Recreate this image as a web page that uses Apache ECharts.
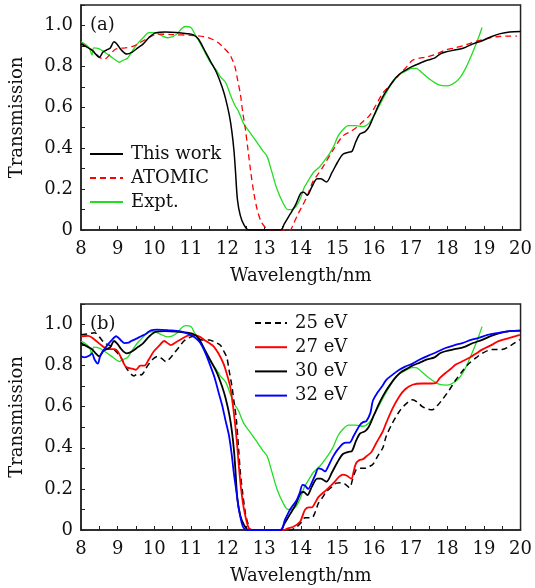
<!DOCTYPE html>
<html lang="en">
<head>
    <meta charset="UTF-8">
    <title>Transmission</title>
    <script src="https://cdn.jsdelivr.net/npm/echarts@6/dist/echarts.min.js"></script>
    <style>
        html, body { margin: 0; padding: 0; background: #fff; }
        #main { width: 535px; height: 588px; }
    </style>
</head>
<body>
    <div id="main"></div>

    <script>
        // x ticks / y ticks
        var xTicks = [8, 9, 10, 11, 12, 13, 14, 15, 16, 17, 18, 19, 20];
        var yTicks = [0, 0.2, 0.4, 0.6, 0.8, 1.0];

        // panel (a) / 30 eV in (b): [wavelength nm, transmission]
        var thisWork = [[8.0,0.91],[8.1,0.9],[8.2,0.89],[8.3,0.88],[8.4,0.86],[8.5,0.845],[8.6,0.87],[8.7,0.88],[8.8,0.89],[8.9,0.92],[9.0,0.905],[9.1,0.88],[9.25,0.86],[9.4,0.87],[9.55,0.89],[9.7,0.91],[9.85,0.94],[10.05,0.965],[10.3,0.968],[10.6,0.966],[10.9,0.96],[11.05,0.955],[11.2,0.935],[11.4,0.87],[11.55,0.82],[11.7,0.77],[11.85,0.7],[11.95,0.64],[12.05,0.56],[12.12,0.48],[12.18,0.38],[12.22,0.28],[12.27,0.15],[12.35,0.07],[12.45,0.025],[12.58,0.0],[13.45,0.0],[13.55,0.03],[13.7,0.075],[13.85,0.12],[14.0,0.18],[14.08,0.185],[14.18,0.17],[14.3,0.21],[14.45,0.25],[14.55,0.25],[14.7,0.235],[14.85,0.28],[15.0,0.33],[15.15,0.37],[15.3,0.38],[15.4,0.385],[15.5,0.43],[15.62,0.47],[15.75,0.48],[15.85,0.5],[16.0,0.56],[16.15,0.62],[16.3,0.67],[16.45,0.71],[16.6,0.745],[16.75,0.77],[16.9,0.785],[17.05,0.8],[17.25,0.815],[17.45,0.83],[17.65,0.84],[17.8,0.86],[17.95,0.87],[18.2,0.88],[18.45,0.89],[18.7,0.91],[18.95,0.925],[19.2,0.945],[19.45,0.96],[19.7,0.968],[20.0,0.97]];

        var atomic = [[8.0,0.915],[8.2,0.89],[8.37,0.87],[8.5,0.845],[8.64,0.835],[8.8,0.86],[8.95,0.885],[9.2,0.89],[9.45,0.9],[9.6,0.915],[9.75,0.93],[9.95,0.95],[10.1,0.958],[10.5,0.955],[11.0,0.952],[11.35,0.945],[11.55,0.935],[11.75,0.915],[11.9,0.89],[12.03,0.865],[12.1,0.845],[12.2,0.8],[12.28,0.73],[12.35,0.665],[12.42,0.57],[12.49,0.49],[12.56,0.39],[12.63,0.29],[12.72,0.18],[12.81,0.1],[12.92,0.04],[13.05,0.01],[13.15,0.0],[13.7,0.0],[13.8,0.03],[13.93,0.08],[14.05,0.12],[14.16,0.16],[14.34,0.24],[14.5,0.28],[14.61,0.31],[14.88,0.39],[15.15,0.46],[15.35,0.48],[15.51,0.5],[15.7,0.53],[15.88,0.56],[16.05,0.61],[16.24,0.67],[16.45,0.71],[16.69,0.76],[16.9,0.8],[17.05,0.83],[17.25,0.84],[17.41,0.845],[17.7,0.86],[17.95,0.88],[18.2,0.89],[18.5,0.905],[18.75,0.92],[18.95,0.93],[19.2,0.94],[19.4,0.946],[19.7,0.948],[19.9,0.948]];

        var expt = [[8.0,0.92],[8.1,0.91],[8.2,0.895],[8.25,0.88],[8.3,0.855],[8.35,0.89],[8.5,0.885],[8.64,0.87],[8.8,0.85],[8.95,0.83],[9.05,0.82],[9.15,0.83],[9.27,0.84],[9.4,0.875],[9.54,0.91],[9.7,0.94],[9.85,0.965],[10.0,0.965],[10.15,0.955],[10.36,0.94],[10.5,0.945],[10.63,0.96],[10.75,0.985],[10.85,0.995],[11.0,0.99],[11.1,0.96],[11.2,0.93],[11.35,0.88],[11.53,0.82],[11.7,0.78],[11.8,0.75],[11.95,0.72],[12.08,0.66],[12.2,0.61],[12.3,0.58],[12.44,0.52],[12.6,0.48],[12.8,0.43],[12.95,0.39],[13.08,0.36],[13.2,0.29],[13.35,0.2],[13.53,0.127],[13.65,0.1],[13.75,0.1],[13.89,0.12],[14.0,0.16],[14.1,0.21],[14.2,0.24],[14.34,0.28],[14.52,0.31],[14.65,0.34],[14.79,0.375],[14.9,0.41],[15.02,0.46],[15.15,0.49],[15.3,0.51],[15.5,0.51],[15.7,0.505],[15.85,0.52],[15.97,0.55],[16.15,0.61],[16.33,0.67],[16.5,0.72],[16.69,0.76],[16.9,0.78],[17.05,0.79],[17.15,0.79],[17.3,0.77],[17.5,0.74],[17.77,0.71],[18.0,0.705],[18.2,0.72],[18.35,0.745],[18.5,0.79],[18.65,0.85],[18.81,0.92],[18.95,0.99]];

        // panel (b)
        var ev25 = [[8.0,0.95],[8.2,0.955],[8.37,0.96],[8.5,0.94],[8.64,0.91],[8.82,0.895],[8.95,0.87],[9.09,0.84],[9.27,0.78],[9.45,0.75],[9.55,0.76],[9.64,0.755],[9.82,0.8],[9.95,0.83],[10.09,0.845],[10.2,0.835],[10.32,0.82],[10.45,0.84],[10.54,0.86],[10.7,0.895],[10.81,0.92],[11.0,0.94],[11.1,0.943],[11.3,0.925],[11.5,0.925],[11.65,0.915],[11.8,0.9],[11.9,0.87],[11.98,0.84],[12.05,0.77],[12.12,0.7],[12.18,0.62],[12.24,0.54],[12.3,0.4],[12.35,0.28],[12.42,0.17],[12.49,0.08],[12.56,0.03],[12.65,0.0],[13.7,0.0],[13.85,0.01],[13.98,0.03],[14.12,0.06],[14.3,0.06],[14.4,0.09],[14.48,0.13],[14.6,0.16],[14.7,0.187],[14.85,0.21],[14.97,0.228],[15.1,0.23],[15.2,0.225],[15.33,0.206],[15.42,0.25],[15.51,0.293],[15.62,0.3],[15.75,0.3],[15.88,0.31],[15.97,0.32],[16.1,0.36],[16.24,0.4],[16.33,0.455],[16.5,0.52],[16.69,0.577],[16.85,0.61],[17.05,0.634],[17.2,0.62],[17.32,0.6],[17.45,0.59],[17.59,0.585],[17.75,0.61],[17.86,0.634],[18.05,0.68],[18.23,0.73],[18.4,0.77],[18.59,0.81],[18.8,0.84],[18.95,0.86],[19.22,0.878],[19.49,0.878],[19.75,0.9],[19.98,0.927]];

        var ev27 = [[8.0,0.943],[8.2,0.945],[8.35,0.93],[8.55,0.9],[8.73,0.88],[8.91,0.88],[9.0,0.87],[9.09,0.84],[9.2,0.8],[9.27,0.79],[9.4,0.785],[9.5,0.78],[9.62,0.8],[9.73,0.8],[9.85,0.83],[9.99,0.87],[10.15,0.9],[10.27,0.92],[10.4,0.905],[10.45,0.9],[10.6,0.915],[10.72,0.927],[10.9,0.945],[11.08,0.95],[11.25,0.94],[11.35,0.927],[11.5,0.91],[11.62,0.894],[11.75,0.86],[11.89,0.81],[11.98,0.76],[12.07,0.7],[12.13,0.63],[12.18,0.56],[12.25,0.44],[12.31,0.31],[12.37,0.2],[12.44,0.11],[12.51,0.05],[12.58,0.01],[12.68,0.0],[13.53,0.0],[13.65,0.008],[13.8,0.016],[13.98,0.04],[14.05,0.07],[14.12,0.1],[14.22,0.11],[14.3,0.11],[14.4,0.135],[14.48,0.16],[14.6,0.18],[14.7,0.195],[14.93,0.236],[15.05,0.26],[15.15,0.27],[15.25,0.265],[15.38,0.25],[15.45,0.29],[15.51,0.325],[15.6,0.34],[15.7,0.345],[15.8,0.36],[15.93,0.38],[16.05,0.42],[16.24,0.48],[16.33,0.52],[16.5,0.59],[16.69,0.65],[16.85,0.685],[17.05,0.707],[17.32,0.713],[17.55,0.713],[17.68,0.715],[17.8,0.74],[17.95,0.764],[18.1,0.785],[18.23,0.805],[18.4,0.82],[18.59,0.837],[18.8,0.86],[18.95,0.878],[19.2,0.9],[19.4,0.919],[19.7,0.935],[19.98,0.95]];

        var ev32 = [[8.0,0.845],[8.1,0.84],[8.24,0.85],[8.3,0.86],[8.37,0.83],[8.46,0.81],[8.52,0.845],[8.6,0.87],[8.7,0.895],[8.82,0.92],[8.96,0.943],[9.08,0.925],[9.19,0.91],[9.3,0.912],[9.37,0.92],[9.5,0.93],[9.64,0.943],[9.78,0.955],[9.91,0.972],[10.09,0.975],[10.4,0.972],[10.72,0.967],[10.88,0.958],[10.99,0.95],[11.12,0.935],[11.26,0.91],[11.4,0.86],[11.53,0.8],[11.65,0.74],[11.76,0.667],[11.85,0.61],[11.94,0.537],[12.04,0.46],[12.12,0.36],[12.17,0.28],[12.24,0.19],[12.31,0.1],[12.38,0.04],[12.44,0.01],[12.55,0.0],[13.44,0.0],[13.57,0.05],[13.71,0.1],[13.89,0.146],[13.97,0.18],[14.05,0.22],[14.12,0.215],[14.2,0.2],[14.3,0.23],[14.4,0.27],[14.48,0.3],[14.58,0.295],[14.66,0.285],[14.75,0.31],[14.88,0.357],[15.0,0.39],[15.15,0.42],[15.25,0.425],[15.33,0.425],[15.45,0.46],[15.61,0.51],[15.7,0.525],[15.79,0.53],[15.9,0.57],[15.97,0.63],[16.1,0.67],[16.24,0.705],[16.33,0.73],[16.5,0.755],[16.69,0.78],[16.85,0.795],[17.05,0.81],[17.25,0.83],[17.5,0.85],[17.7,0.865],[17.95,0.886],[18.2,0.9],[18.41,0.91],[18.65,0.925],[18.86,0.935],[19.1,0.95],[19.4,0.96],[19.7,0.968],[19.98,0.97]];

        var FONT = "'DejaVu Serif', serif";
        var FS = 18;
        var GREEN = '#22dd22';

        var chart = echarts.init(document.getElementById('main'));

        function makeX(gi) {
            return {
                type: 'value', gridIndex: gi, min: 8, max: 20, interval: 0.5,
                name: 'Wavelength/nm', nameLocation: 'middle', nameGap: 37,
                nameTextStyle: { fontFamily: FONT, fontSize: FS, color: '#111' },
                axisLine: { show: true, lineStyle: { color: '#222', width: 1.5 } },
                axisTick: { show: true, inside: true, length: 4, lineStyle: { color: '#222' } },
                axisLabel: {
                    margin: 10, fontFamily: FONT, fontSize: FS, color: '#111',
                    formatter: function (v) { return xTicks.indexOf(v) >= 0 ? String(v) : ''; }
                },
                splitLine: { show: false }
            };
        }

        function makeY(gi) {
            return {
                type: 'value', gridIndex: gi, min: 0, max: 1.1, interval: 0.1,
                name: 'Transmission', nameLocation: 'middle', nameGap: 55,
                nameTextStyle: { fontFamily: FONT, fontSize: FS, color: '#111' },
                axisLine: { show: true, lineStyle: { color: '#222', width: 1.5 } },
                axisTick: { show: true, inside: true, length: 4, lineStyle: { color: '#222' } },
                axisLabel: {
                    margin: 8, fontFamily: FONT, fontSize: FS, color: '#111',
                    formatter: function (v) {
                        var k = Math.round(v * 10);
                        if (k % 2 || k > 10) return '';
                        return k === 0 ? '0' : (k / 10).toFixed(1);
                    }
                },
                splitLine: { show: false }
            };
        }

        function line(name, data, gi, color, width, dashed) {
            return {
                name: name, type: 'line', xAxisIndex: gi, yAxisIndex: gi,
                data: data, symbol: 'none', smooth: 0.3, clip: true,
                lineStyle: { color: color, width: width, type: dashed ? [6, 4] : 'solid' },
                itemStyle: { color: color }
            };
        }

        var legendText = { fontFamily: FONT, fontSize: FS, color: '#111', padding: [0, 0, 0, 3] };

        var option = {
            animation: false,
            backgroundColor: '#fff',
            grid: [
                { left: 81, right: 11, top: 5, height: 225, show: true, borderColor: '#222', borderWidth: 1.5 },
                { left: 81, right: 11, top: 304, height: 226, show: true, borderColor: '#222', borderWidth: 1.5 }
            ],
            xAxis: [makeX(0), makeX(1)],
            yAxis: [makeY(0), makeY(1)],
            legend: [
                {
                    data: ['This work', 'ATOMIC', 'Expt.'],
                    orient: 'vertical', left: 89, top: 145, padding: 0,
                    itemWidth: 33, itemHeight: 14, itemGap: 6,
                    itemStyle: { opacity: 0 },
                    textStyle: legendText
                },
                {
                    data: ['25 eV', '27 eV', '30 eV', '32 eV'],
                    orient: 'vertical', left: 254, top: 314, padding: 0,
                    itemWidth: 32, itemHeight: 14, itemGap: 6.2,
                    itemStyle: { opacity: 0 },
                    textStyle: legendText
                }
            ],
            graphic: [
                { type: 'text', left: 90, top: 16, style: { text: '(a)', font: FS + 'px ' + FONT, fill: '#111' } },
                { type: 'text', left: 90, top: 315, style: { text: '(b)', font: FS + 'px ' + FONT, fill: '#111' } }
            ],
            series: [
                line('Expt.', expt, 0, GREEN, 1.3, false),
                line('ATOMIC', atomic, 0, '#ff0000', 1.3, true),
                line('This work', thisWork, 0, '#000', 1.5, false),

                line('Expt.', expt, 1, GREEN, 1.3, false),
                line('25 eV', ev25, 1, '#000', 1.5, true),
                line('27 eV', ev27, 1, '#ff0000', 1.8, false),
                line('30 eV', thisWork, 1, '#000', 1.8, false),
                line('32 eV', ev32, 1, '#0000ff', 1.8, false)
            ]
        };

        chart.setOption(option);
    </script>
</body>
</html>
